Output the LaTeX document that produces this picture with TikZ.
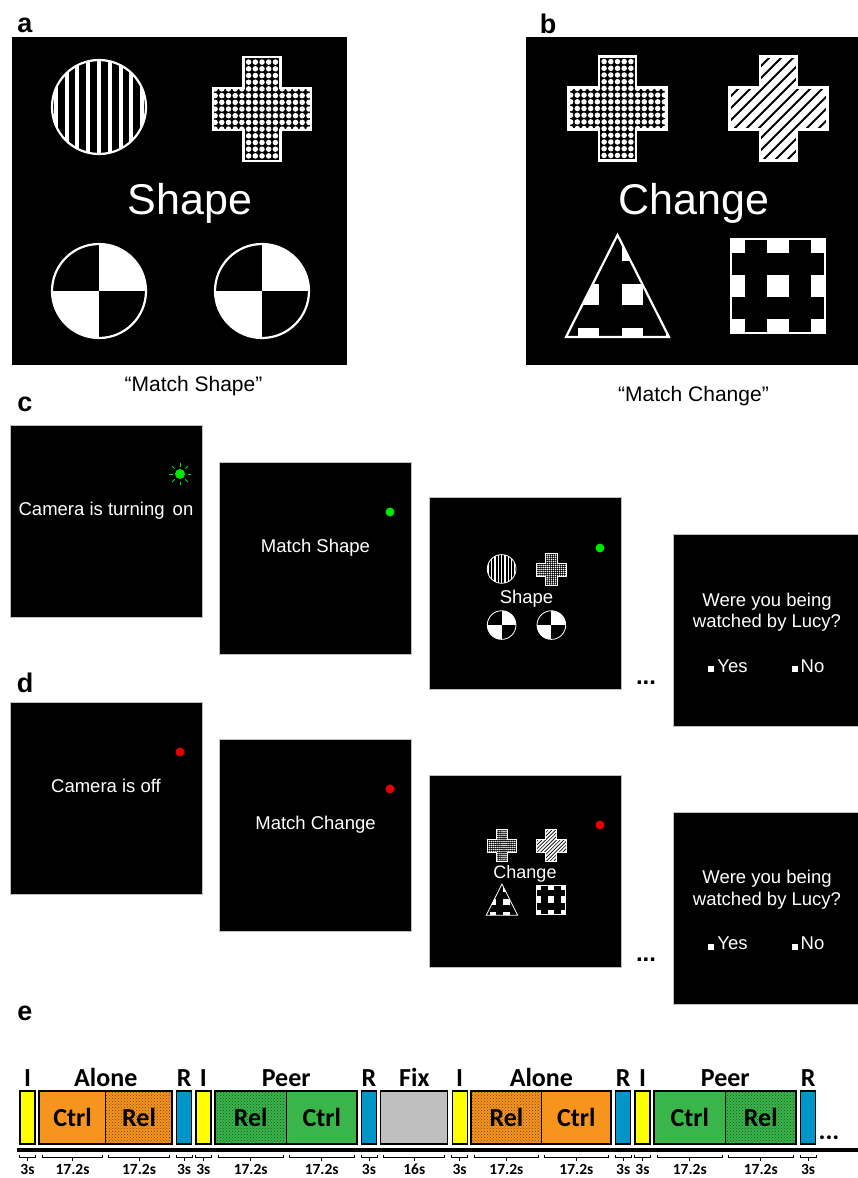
\documentclass[tikz,border=0pt]{standalone}
\usepackage{fontspec}
\setmainfont{Liberation Sans}
\newfontfamily\calibri{Carlito}
\usetikzlibrary{calc,positioning,patterns}
\definecolor{ctrlorange}{RGB}{247,148,30}
\definecolor{ctrlgreen}{RGB}{57,181,74}
\definecolor{rblue}{RGB}{0,150,200}
\definecolor{fixgray}{RGB}{191,191,191}
\definecolor{iyellow}{RGB}{255,255,0}
\definecolor{camgreen}{RGB}{0,230,0}
\definecolor{camred}{RGB}{230,0,0}

\newcommand{\timebrace}[3][2]{%
  \draw[tbrace] ($(#2.south west)+(#1,10.5)$) -- ++(0,3) -| ($(#2.south east)+(-#1,10.5)$);
  \draw[tbrace] ($(#2.south)+(0,13.5)$) -- ++(0,3.5);
  \node[timelbl] at ($(#2.south)+(0,25.5)$) {#3};}

\tikzset{
  stimline/.style={draw=white, line width=2.2pt},
  stimstripe/.style={line width=2pt},
  stimmini/.style={scale=0.305,
    stimline/.style={draw=white, line width=0.8pt},
    stimstripe/.style={line width=0.65pt}},
  pics/stripecircle/.style={code={
    \begin{scope}
      \clip (0,0) circle (47);
      \fill[black] (-47,-47) rectangle (47,47);
      \foreach \k in {-4,...,4}
        \fill[white] (\k*10.8-2,-47) rectangle (\k*10.8+2,47);
    \end{scope}
    \draw[stimline] (0,0) circle (47);
  }},
  pics/checkcircle/.style={code={
    \begin{scope}
      \clip (0,0) circle (47);
      \fill[white] (-47,-47) rectangle (47,47);
      \fill[black] (-47,-47) rectangle (0,0);
      \fill[black] (0,0) rectangle (47,47);
    \end{scope}
    \draw[stimline] (0,0) circle (47);
  }},
  pics/dotcross/.style={code={
    \begin{scope}
      \clip (-18.5,-52) -- (18.5,-52) -- (18.5,-21) -- (49,-21) -- (49,21) -- (18.5,21) -- (18.5,52)
        -- (-18.5,52) -- (-18.5,21) -- (-49,21) -- (-49,-21) -- (-18.5,-21) -- cycle;
      \fill[black] (-49,-52) rectangle (49,52);
      \foreach \i in {-7,...,7}
        \foreach \j in {-8,...,8}
          \fill[white] (\i*6.7,\j*6.7) circle (2.75);
    \end{scope}
    \draw[stimline] (-18.5,-52) -- (18.5,-52) -- (18.5,-21) -- (49,-21) -- (49,21) -- (18.5,21) -- (18.5,52)
      -- (-18.5,52) -- (-18.5,21) -- (-49,21) -- (-49,-21) -- (-18.5,-21) -- cycle;
  }},
  pics/stripecross/.style={code={
    \begin{scope}
      \clip (-18.5,-52) -- (18.5,-52) -- (18.5,-21) -- (49,-21) -- (49,21) -- (18.5,21) -- (18.5,52)
        -- (-18.5,52) -- (-18.5,21) -- (-49,21) -- (-49,-21) -- (-18.5,-21) -- cycle;
      \fill[white] (-49,-52) rectangle (49,52);
      \foreach \k in {-9,...,9}
        \draw[black, stimstripe] (\k*12-60,60) -- (\k*12+60,-60);
    \end{scope}
    \draw[stimline] (-18.5,-52) -- (18.5,-52) -- (18.5,-21) -- (49,-21) -- (49,21) -- (18.5,21) -- (18.5,52)
      -- (-18.5,52) -- (-18.5,21) -- (-49,21) -- (-49,-21) -- (-18.5,-21) -- cycle;
  }},
  pics/patchtri/.style={code={
    \begin{scope}
      \clip (0,-51) -- (51.5,51) -- (-51.5,51) -- cycle;
      \fill[black] (-52,-52) rectangle (52,52);
      \foreach \i in {-2,...,1}
        \foreach \j in {-1,0,1}
          \fill[white] (15+44*\i-10.5,8.5+44*\j-10.5) rectangle ++(21,21);
    \end{scope}
    \draw[stimline] (0,-51) -- (51.5,51) -- (-51.5,51) -- cycle;
  }},
  pics/patchsquare/.style={code={
    \begin{scope}
      \clip (-47,-47) rectangle (47,47);
      \fill[black] (-47,-47) rectangle (47,47);
      \foreach \i in {-1,0,1}
        \foreach \j in {-1,0,1}
          \fill[white] (44*\i-11,44*\j-11) rectangle ++(22,22);
    \end{scope}
    \draw[stimline] (-47,-47) rectangle (47,47);
  }},
  pics/shapeset/.style={code={
    \pic[transform shape] at (-81.5,-92) {stripecircle};
    \pic[transform shape] at (81.5,-90) {dotcross};
    \pic[transform shape] at (-81.5,92) {checkcircle};
    \pic[transform shape] at (81.5,92) {checkcircle};
  }},
  pics/changeset/.style={code={
    \pic[transform shape] at (-80.5,-88.5) {dotcross};
    \pic[transform shape] at (80.5,-88.5) {stripecross};
    \pic[transform shape] at (-80.5,89) {patchtri};
    \pic[transform shape] at (80,89) {patchsquare};
  }},
  paneltag/.style={anchor=base, inner sep=0pt, font=\bfseries\fontsize{27}{30}\selectfont},
  panelbox/.style={fill=black, inner sep=0pt, outer sep=0pt},
  bigword/.style={anchor=base, inner sep=0pt, text=white, font=\fontsize{43}{48}\selectfont},
  caption/.style={inner sep=0pt, font=\fontsize{21}{24}\selectfont},
  screen/.style={fill=black, draw=gray!50, line width=0.5pt, minimum width=192pt,
    minimum height=192pt, inner sep=0pt, outer sep=0pt},
  screentext/.style={anchor=base, inner sep=0pt, text=white, font=\fontsize{18.5}{21.5}\selectfont},
  dots/.style={inner sep=0pt, font=\bfseries\fontsize{24}{24}\selectfont},
  seg/.style={draw, line width=1.2pt, minimum height=53pt, inner sep=0pt, outer sep=0pt,
    font=\calibri\bfseries\fontsize{26}{30}\selectfont},
  iseg/.style={seg, fill=iyellow, minimum width=15pt},
  rseg/.style={seg, fill=rblue, minimum width=15pt},
  fixseg/.style={seg, fill=fixgray, minimum width=67pt},
  ctrlseg/.style={seg, line width=0.8pt, fill=#1},
  relseg/.style={seg, line width=0.8pt, preaction={fill=#1}, pattern=crosshatch dots,
    pattern color=#1!45!black},
  grpframe/.style={draw, line width=2pt},
  toplbl/.style={inner sep=0pt, font=\calibri\bfseries\fontsize{26}{30}\selectfont},
  tbrace/.style={line width=1pt},
  timelbl/.style={inner sep=0pt, font=\calibri\bfseries\fontsize{15.5}{18}\selectfont}
}

\begin{document}
\begin{tikzpicture}[x=1pt, y=-1pt]
\useasboundingbox (0,0) rectangle (858,1178);
\fill[white] (0,0) rectangle (858,1178);

% a: match shape
\node[paneltag] at (25,32) {a};
\node[panelbox, minimum width=335pt, minimum height=328pt] (pa) at (179.5,201) {};
\pic at (180.5,199) {shapeset};
\node[bigword] (pashape) at (190,214) {Shape};
\node[caption] (pacap) at (193.5,386) {“Match Shape”};

% b: match change
\node[paneltag] at (548,33) {b};
\node[panelbox, minimum width=332pt, minimum height=328pt] (pb) at (692,201) {};
\pic at (698,197) {changeset};
\node[bigword] (pbchange) at (694,214) {Change};
\node[caption] (pbcap) at (693.5,396) {“Match Change”};

% c: camera on
\node[paneltag] at (25,411) {c};
\node[screen] (c1) at (106,521) {};
\node[screentext] (c1txt) at ($(c1)+(0,-6)$) {Camera is turning\hspace{3pt} on};
\coordinate (sun) at ($(c1)+(74,-47)$);
\fill[camgreen] (sun) circle (5);
\foreach \a in {0,45,...,315}
  \draw[camgreen, line width=0.8pt] ($(sun)+(\a:7.5)$) -- ($(sun)+(\a:11)$);
\node[screen] (c2) at (315.5,558) {};
\node[screentext] (c2txt) at ($(c2)+(0,-6)$) {Match Shape};
\fill[camgreen] ($(c2)+(74.5,-46)$) circle (4.5);
\node[screen] (c3) at (525.5,593.5) {};
\pic[stimmini] at ($(c3)+(1,3.5)$) {shapeset};
\node[screentext] (c3txt) at ($(c3)+(1,9.5)$) {Shape};
\fill[camgreen] ($(c3)+(74.5,-45.5)$) circle (4.5);
\node[dots] (cdots) at (646,683) {...};
\node[screen, minimum width=186pt] (c4) at (766,630.5) {};
\node[screentext] (c4q1) at ($(c4)+(1,-24.5)$) {Were you being};
\node[screentext] (c4q2) at ($(c4)+(1,-3)$) {watched by Lucy?};
\node[screentext] (c4yes) at ($(c4)+(-38,41.5)$) {\rule{6pt}{6pt}\,Yes};
\node[screentext] (c4no) at ($(c4)+(42,41.5)$) {\rule{6pt}{6pt}\,No};

% d: camera off
\node[paneltag] at (25,692) {d};
\node[screen] (d1) at (106,798.5) {};
\node[screentext] (d1txt) at ($(d1)+(0,-6)$) {Camera is off};
\fill[camred] ($(d1)+(74,-46.5)$) circle (4.5);
\node[screen] (d2) at (315.5,835.5) {};
\node[screentext] (d2txt) at ($(d2)+(0,-6)$) {Match Change};
\fill[camred] ($(d2)+(74.5,-46.5)$) circle (4.5);
\node[screen] (d3) at (525.5,871) {};
\pic[stimmini] at ($(d3)+(1,1.5)$) {changeset};
\node[screentext, font=\fontsize{18}{21}\selectfont] (d3txt) at ($(d3)+(-0.5,7)$) {Change};
\fill[camred] ($(d3)+(74.5,-46)$) circle (4.5);
\node[dots] (ddots) at (646,960) {...};
\node[screen, minimum width=186pt] (d4) at (766,908) {};
\node[screentext] (d4q1) at ($(d4)+(1,-24.5)$) {Were you being};
\node[screentext] (d4q2) at ($(d4)+(1,-3)$) {watched by Lucy?};
\node[screentext] (d4yes) at ($(d4)+(-38,41.5)$) {\rule{6pt}{6pt}\,Yes};
\node[screentext] (d4no) at ($(d4)+(42,41.5)$) {\rule{6pt}{6pt}\,No};

% e: block timeline
\node[paneltag] at (25,1020) {e};
\node[iseg, anchor=west] (I1) at (20,1117.5) {};
\node[ctrlseg=ctrlorange, minimum width=66.5pt, right=4.3pt of I1] (A1-a) {Ctrl};
\node[relseg=ctrlorange, minimum width=66.5pt, right=0pt of A1-a] (A1-b) {Rel};
\node[rseg, right=4.3pt of A1-b] (R1) {};
\node[iseg, right=4.3pt of R1] (I2) {};
\node[relseg=ctrlgreen, minimum width=71pt, right=4.3pt of I2] (P1-a) {Rel};
\node[ctrlseg=ctrlgreen, minimum width=71pt, right=0pt of P1-a] (P1-b) {Ctrl};
\node[rseg, right=4.3pt of P1-b] (R2) {};
\node[fixseg, right=4.3pt of R2] (F1) {};
\node[iseg, right=4.3pt of F1] (I3) {};
\node[relseg=ctrlorange, minimum width=70pt, right=4.3pt of I3] (A2-a) {Rel};
\node[ctrlseg=ctrlorange, minimum width=70pt, right=0pt of A2-a] (A2-b) {Ctrl};
\node[rseg, right=4.3pt of A2-b] (R3) {};
\node[iseg, right=4.3pt of R3] (I4) {};
\node[ctrlseg=ctrlgreen, minimum width=71pt, right=4.3pt of I4] (P2-a) {Ctrl};
\node[relseg=ctrlgreen, minimum width=71pt, right=0pt of P2-a] (P2-b) {Rel};
\node[rseg, right=4.3pt of P2-b] (R4) {};
\foreach \g in {A1,P1,A2,P2}
  \draw[grpframe] (\g-a.north west) rectangle (\g-b.south east);
\node[dots, font=\calibri\bfseries\fontsize{26}{26}\selectfont] (edots) at (829,1138) {...};

\foreach \n in {I1,I2,I3,I4}
  \node[toplbl, above=4pt of \n] {I};
\foreach \n in {R1,R2,R3,R4}
  \node[toplbl, above=4pt of \n] {R};
\node[toplbl, above=4pt of A1-a.north east] {Alone};
\node[toplbl, above=4pt of P1-a.north east] {Peer};
\node[toplbl, above=4pt of F1] {Fix};
\node[toplbl, above=4pt of A2-a.north east] {Alone};
\node[toplbl, above=4pt of P2-a.north east] {Peer};

\draw[line width=4.5pt] (17,1150) -- (858,1150);
\foreach \n in {I1,R1,I2,R2,I3,R3,I4,R4}
  \timebrace[-0.5]{\n}{3s};
\foreach \n in {A1-a,A1-b,P1-a,P1-b,A2-a,A2-b,P2-a,P2-b}
  \timebrace[3]{\n}{17.2s};
\timebrace[3]{F1}{16s};
\end{tikzpicture}
\end{document}
